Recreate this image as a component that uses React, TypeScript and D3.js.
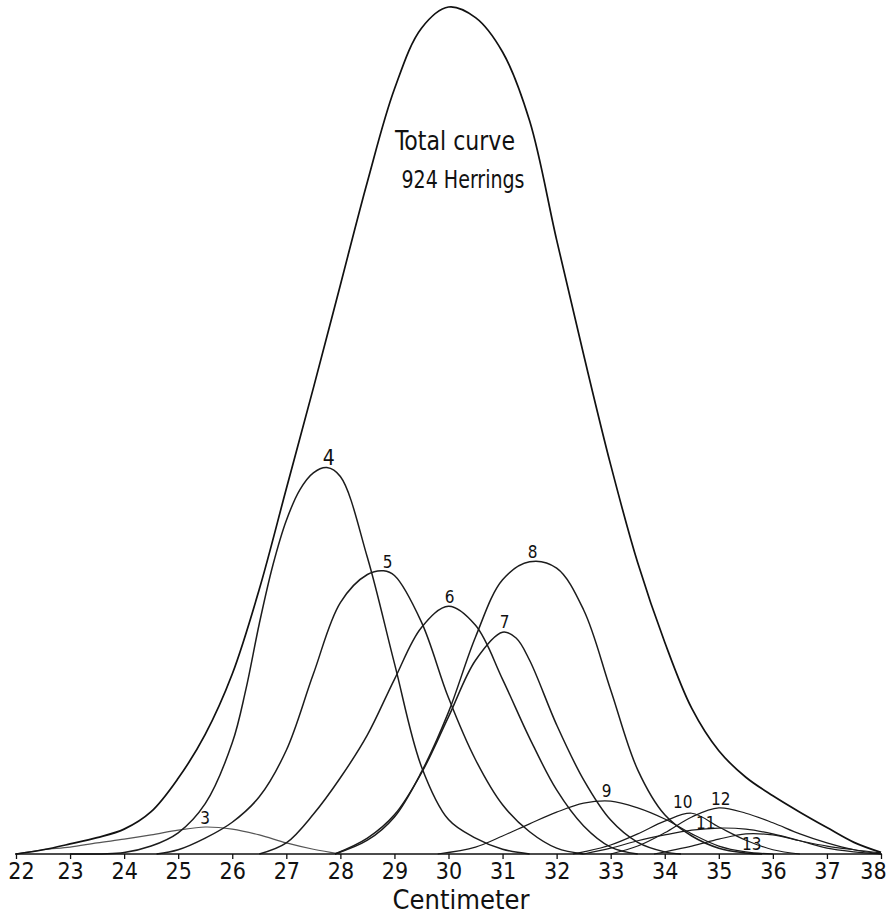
import { useEffect, useRef } from 'react';
import * as d3 from 'd3';

// length classes (cm) shown on the axis
const xTicks = [22, 23, 24, 25, 26, 27, 28, 29, 30, 31, 32, 33, 34, 35, 36, 37, 38];

// frequencies, [cm, herrings per cm]
const totalCurve = [
  [22, 0], [22.5, 0.8], [23, 1.9], [23.5, 3.1], [24, 4.7], [24.5, 8.0], [25, 14.3],
  [25.5, 22.6], [26, 34.0], [26.5, 50.0], [27, 69.0], [27.5, 88.0], [28, 107.5],
  [28.5, 127.0], [29, 144.5], [29.5, 156.0], [30, 160.0], [30.5, 158.0], [31, 151.5],
  [31.5, 138.5], [32, 116.0], [32.5, 94.3], [33, 73.5], [33.5, 55.0], [34, 40.0],
  [34.5, 27.5], [35, 19.5], [35.5, 14.5], [36, 11.0], [36.5, 7.9], [37, 5.0],
  [37.5, 2.2], [38, 0.3],
];
const age3 = [
  [22, 0], [22.5, 0.8], [23, 1.3], [23.5, 2.1], [24, 2.8], [24.5, 3.6], [25, 4.5],
  [25.5, 5.1], [26, 4.7], [26.5, 3.6], [27, 2.1], [27.5, 0.9], [28, 0],
];
const age4 = [
  [23, 0], [24, 0.3], [24.5, 1.5], [25, 4.0], [25.5, 9.5], [26, 21.0], [26.25, 31.0],
  [26.5, 43.5], [26.75, 54.5], [27, 63.0], [27.25, 68.8], [27.5, 72.0], [27.75, 73.0],
  [28, 71.3], [28.5, 56.0], [29, 36.0], [29.5, 16.5], [30, 6.5], [30.5, 3.0], [31, 0.9],
  [31.5, 0],
];
const age5 = [
  [24.6, 0], [25, 0.8], [25.5, 3.0], [26, 6.0], [26.5, 10.8], [27, 19.6], [27.5, 34.0],
  [28, 47.5], [28.5, 52.8], [28.8, 53.5], [29, 52.6], [29.5, 43.8], [30, 29.5],
  [30.5, 17.8], [31, 9.3], [31.5, 4.2], [32, 1.1], [32.5, 0],
];
const age6 = [
  [26.5, 0], [27, 2.1], [27.5, 7.5], [28, 14.4], [28.5, 22.5], [29, 33.0], [29.5, 42.8],
  [30, 46.8], [30.5, 43.2], [31, 33.0], [31.5, 21.9], [32, 12.1], [32.5, 5.3], [33, 1.3],
  [33.5, 0],
];
const age7 = [
  [27.9, 0], [28.5, 3.0], [29, 7.4], [29.5, 15.3], [30, 25.9], [30.5, 36.6], [31, 41.9],
  [31.25, 40.8], [31.5, 36.6], [32, 24.4], [32.5, 14.0], [33, 6.4], [33.5, 2.2],
  [34, 0.4], [34.3, 0],
];
const age8 = [
  [27.9, 0], [28.5, 2.6], [29, 7.0], [29.5, 15.5], [30, 26.8], [30.5, 41.0], [31, 51.8],
  [31.5, 55.2], [32, 54.0], [32.5, 46.1], [33, 31.0], [33.5, 15.9], [34, 7.4],
  [34.5, 3.4], [35, 1.1], [35.5, 0.2], [35.8, 0],
];
const age9 = [
  [29.8, 0], [30.5, 1.3], [31, 3.4], [31.5, 5.7], [32, 7.9], [32.5, 9.6], [33, 10.0],
  [33.5, 8.7], [34, 6.6], [34.5, 3.8], [35, 1.5], [35.5, 0.4], [36, 0],
];
const age10 = [
  [32.3, 0], [32.5, 0.4], [33, 1.7], [33.5, 3.8], [34, 6.2], [34.5, 7.7], [35, 5.1],
  [35.5, 2.6], [36, 0.8], [36.5, 0],
];
const age11 = [
  [32.5, 0], [33, 1.1], [33.5, 2.5], [34, 3.6], [34.5, 4.5], [35, 4.9], [35.5, 4.7],
  [36, 3.8], [36.5, 2.5], [37, 1.1], [37.5, 0.4], [38, 0],
];
const age12 = [
  [33, 0], [33.5, 1.5], [34, 4.0], [34.5, 7.0], [35, 8.7], [35.5, 7.7], [36, 5.9],
  [36.5, 3.8], [37, 2.1], [37.5, 0.8], [38, 0],
];
const age13 = [
  [33.8, 0], [34.5, 1.5], [35, 2.8], [35.5, 3.8], [36, 3.6], [36.5, 2.5], [37, 1.5],
  [37.5, 0.8], [38, 0.2],
];

const ageLabels = ['3', '4', '5', '6', '7', '8', '9', '10', '11', '12', '13'];
const ageCurves = [age3, age4, age5, age6, age7, age8, age9, age10, age11, age12, age13];

// nudge each number off its peak, like the hand lettering
const labelNudge = {
  '3': [0, -3], '4': [2, -3], '5': [4, -3], '6': [1, -3], '7': [2, -4], '8': [3, -4],
  '9': [-4, -4], '10': [-9, -5], '11': [-13, 1], '12': [2, -3], '13': [6, 16],
};

const W = 893;
const H = 915;
const FONT = "'Liberation Sans Narrow', 'DejaVu Sans Condensed', 'Liberation Sans', sans-serif";

export default function App() {
  const svgRef = useRef(null);

  useEffect(() => {
    const svg = d3.select(svgRef.current);
    svg.selectAll('*').remove();

    const x = d3.scaleLinear().domain([22, 38]).range([16, 881]);
    const y = d3.scaleLinear().domain([0, 160]).range([854, 7]);

    const line = d3
      .line()
      .x((d) => x(d[0]))
      .y((d) => Math.min(y(d[1]), y(0)))
      .curve(d3.curveCatmullRom.alpha(0.5));

    svg.append('rect').attr('width', W).attr('height', H).attr('fill', '#fff');

    // component curves
    ageCurves.forEach((pts, i) => {
      svg
        .append('path')
        .datum(pts)
        .attr('fill', 'none')
        .attr('stroke', i === 0 ? '#555' : '#1c1c1c')
        .attr('stroke-width', i >= 6 || i === 0 ? 1.2 : 1.5)
        .attr('d', line);
    });

    // total curve
    svg
      .append('path')
      .datum(totalCurve)
      .attr('fill', 'none')
      .attr('stroke', '#111')
      .attr('stroke-width', 1.7)
      .attr('d', line);

    // age numbers at the peaks
    ageCurves.forEach((pts, i) => {
      const peak = pts.reduce((a, b) => (b[1] > a[1] ? b : a));
      const lab = ageLabels[i];
      const [dx, dy] = labelNudge[lab];
      svg
        .append('text')
        .attr('x', x(peak[0]) + dx)
        .attr('y', y(peak[1]) + dy)
        .attr('text-anchor', 'middle')
        .attr('font-family', FONT)
        .attr('font-size', lab === '4' ? 21 : 17)
        .attr('fill', '#111')
        .text(lab);
    });

    // axis
    const axis = svg.append('g').attr('transform', `translate(0,${y(0)})`);
    axis
      .call(d3.axisBottom(x).tickValues(xTicks).tickSize(5).tickPadding(4).tickFormat(d3.format('d')))
      .call((g) => g.select('.domain').attr('stroke', '#111').attr('stroke-width', 1.6).attr('d', `M15,0H882`));
    axis.selectAll('.tick line').attr('stroke', '#111').attr('stroke-width', 1.3);
    axis
      .selectAll('.tick text')
      .attr('font-family', FONT)
      .attr('font-size', 23)
      .attr('fill', '#111')
      .attr('dx', (d) => (d === 22 ? 5 : d === 38 ? -8 : 0));

    svg
      .append('text')
      .attr('x', 461)
      .attr('y', 909)
      .attr('text-anchor', 'middle')
      .attr('font-family', FONT)
      .attr('font-size', 26)
      .attr('fill', '#111')
      .attr('textLength', 137)
      .attr('lengthAdjust', 'spacingAndGlyphs')
      .text('Centimeter');

    svg
      .append('text')
      .attr('x', 455)
      .attr('y', 150)
      .attr('text-anchor', 'middle')
      .attr('font-family', FONT)
      .attr('font-size', 26)
      .attr('fill', '#111')
      .attr('textLength', 120)
      .attr('lengthAdjust', 'spacingAndGlyphs')
      .text('Total curve');

    svg
      .append('text')
      .attr('x', 463)
      .attr('y', 188)
      .attr('text-anchor', 'middle')
      .attr('font-family', FONT)
      .attr('font-size', 24)
      .attr('fill', '#111')
      .attr('textLength', 123)
      .attr('lengthAdjust', 'spacingAndGlyphs')
      .text('924 Herrings');
  }, []);

  return (
    <svg
      ref={svgRef}
      width={W}
      height={H}
      style={{ position: 'absolute', left: 0, top: 0 }}
    ></svg>
  );
}
